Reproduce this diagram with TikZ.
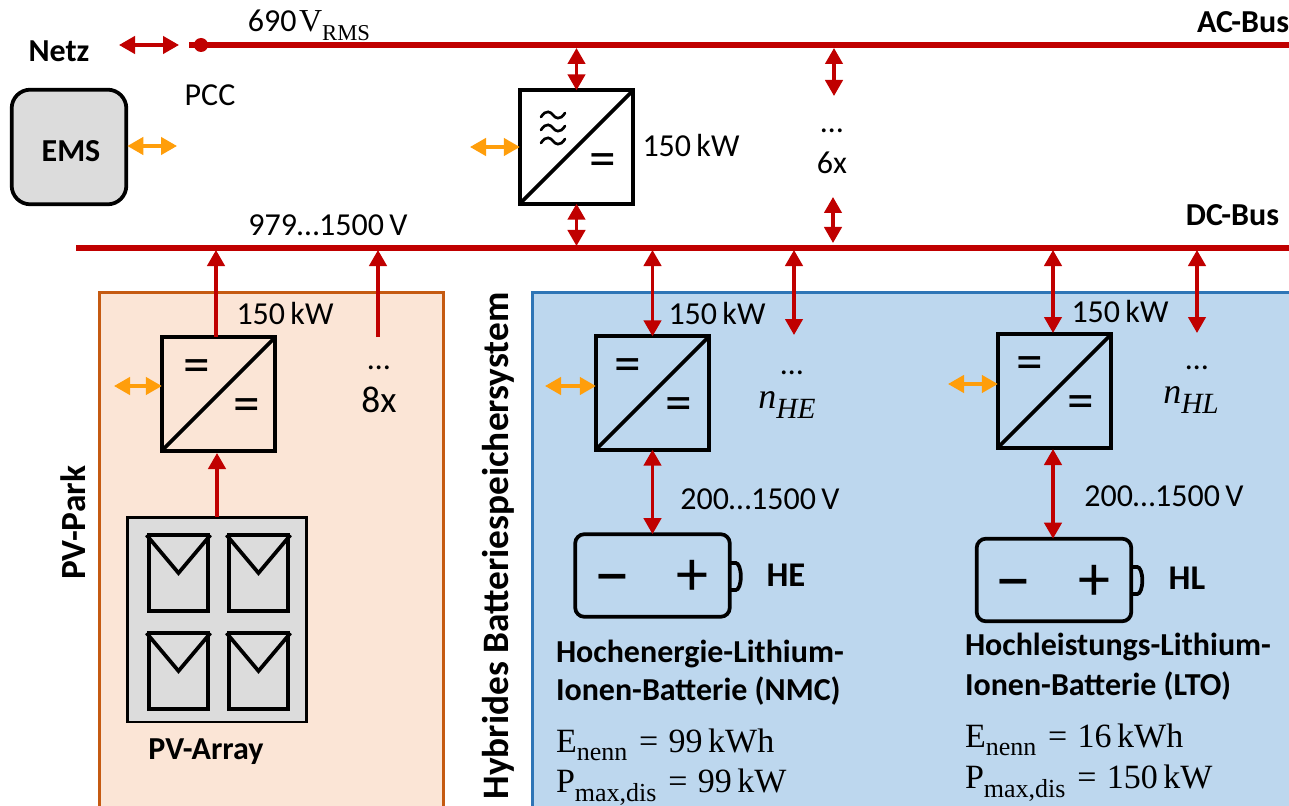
\documentclass[tikz,border=0pt]{standalone}
\usepackage{fontspec}
\setmainfont{Carlito}
\newfontfamily\serifm{Liberation Serif}
\usetikzlibrary{arrows.meta}
\definecolor{busred}{HTML}{C00000}
\definecolor{sigorange}{HTML}{FF9E0B}
\definecolor{pvfill}{HTML}{FBE5D6}
\definecolor{pvline}{HTML}{C55A11}
\definecolor{blfill}{HTML}{BDD7EE}
\definecolor{blline}{HTML}{2E75B6}
\definecolor{grayfill}{HTML}{DCDCDC}
\newcommand{\szn}{\fontsize{24}{28}\selectfont}
\newcommand{\szb}{\fontsize{24}{28}\selectfont\bfseries}
\newcommand{\szm}{\fontsize{25.5}{28}\selectfont}
\newcommand{\szs}{\fontsize{19.5}{20}\selectfont}
\newcommand{\subs}[1]{\raisebox{-0.25em}{\szs #1}}
\newcommand{\eqsgn}{\hspace{0.35em}=\hspace{0.3em}}
\tikzset{
  x=0.75pt,y=-0.75pt,
  lbl/.style={inner sep=0pt,outer sep=0pt,font=\szn},
  blbl/.style={inner sep=0pt,outer sep=0pt,font=\szb},
  hlbl/.style={inner sep=0pt,outer sep=0pt,font=\fontsize{26}{28}\selectfont\bfseries},
  mlbl/.style={inner sep=0pt,outer sep=0pt,anchor=west,font=\szm\serifm},
  conv/.style={draw=black,line width=2.9pt,minimum size=85pt,inner sep=0pt,outer sep=0pt},
  busline/.style={draw=busred,line width=4.1pt},
  rarrow/.style={draw=busred,line width=2.5pt,{Triangle[width=13pt,length=12pt]}-{Triangle[width=13pt,length=12pt]}},
  uparrow/.style={draw=busred,line width=2.5pt,-{Triangle[width=13pt,length=12pt]}},
  oarrow/.style={draw=sigorange,line width=2.5pt,{Triangle[width=13pt,length=12pt]}-{Triangle[width=13pt,length=12pt]}},
  panel/.style={draw=black,line width=2.8pt,minimum width=44pt,minimum height=57pt,inner sep=0pt,outer sep=0pt},
  batt/.style={draw=black,line width=2.8pt,fill=blfill,rounded corners=7pt,minimum width=116pt,minimum height=62pt,inner sep=0pt,outer sep=0pt},
  eqs/.style={inner sep=0pt,outer sep=0pt,font=\fontsize{40}{40}\selectfont},
  pmm/.style={inner sep=0pt,outer sep=0pt,font=\fontsize{54}{54}\selectfont},
  pmp/.style={inner sep=0pt,outer sep=0pt,font=\fontsize{48}{48}\selectfont},
}
\newcommand{\dia}[1]{\draw[line width=2.9pt,line cap=round] (#1.south west) -- (#1.north east);}
\newcommand{\vmark}[1]{\draw[line width=2.8pt,line join=miter] ([xshift=-2pt]#1.north west) -- ([yshift=-28.5pt]#1.north) -- ([xshift=2pt]#1.north east);}
\begin{document}
\begin{tikzpicture}
\clip (0,0) rectangle (1289,806);
\fill[white] (0,0) rectangle (1289,806);

% background areas
\node[draw=pvline,fill=pvfill,line width=2.2pt,inner sep=0pt,outer sep=0pt,minimum width=258pt,minimum height=400pt,anchor=north west] (pvarea) at (99.5,292.5) {};
\node[draw=blline,fill=blfill,line width=2.2pt,inner sep=0pt,outer sep=0pt,minimum width=600pt,minimum height=400pt,anchor=north west] (blarea) at (532.5,292.5) {};

% buses
\coordinate (acstart) at (189,45);
\coordinate (acend) at (1295,45);
\coordinate (dcstart) at (76,248);
\coordinate (dcend) at (1295,248);
\draw[busline] (acstart) -- (acend);
\draw[busline] (dcstart) -- (dcend);
\node[circle,fill=busred,minimum size=10.5pt,inner sep=0pt,outer sep=0pt] (pcc) at (201,45) {};
\coordinate (gridl) at (119,45);
\coordinate (gridr) at (179,45);
\draw[rarrow] (gridl) -- (gridr);

% labels top
\node[blbl] (netz) at (59,51) {Netz};
\node[lbl] (pcctxt) at (210,95) {PCC};
\node[lbl] (acv) at (309,25) {690\hspace{0.08em}{\serifm V\raisebox{-0.28em}{\fontsize{17}{20}\selectfont RMS}}};
\node[blbl,anchor=east] (acbus) at (1289,22) {AC-Bus};
\node[blbl,anchor=east] (dcbus) at (1279,215) {DC-Bus};
\node[lbl] (dcv) at (328,225) {979…1500\,V};

% EMS
\node[draw=black,fill=grayfill,line width=2.8pt,rounded corners=14pt,minimum size=86pt,inner sep=0pt,outer sep=0pt] (ems) at (69,147) {};
\node[blbl] (emstxt) at (71,151) {EMS};
\coordinate (emso) at (177,146);
\draw[oarrow] (ems.east |- emso) ++(1,0) coordinate (emsi) -- (emso);

% AC/DC converter
\node[conv] (acdc) at (576.5,147) {};
\dia{acdc}
\foreach \yy in {115,128,141}{
  \draw[line width=2pt,line cap=round] (541,\yy+2) .. controls (546,\yy-6) and (551,\yy-3) .. (553,\yy) .. controls (555,\yy+3) and (560,\yy+6) .. (565,\yy-2);
}
\node[eqs] (acd) at (603,165) {=};
\node[lbl] (acp) at (691,146) {150\,kW};
\coordinate (aco) at (470,147);
\draw[oarrow] (aco) -- (acdc.west);
\draw[rarrow] (acdc.north) -- (acdc.north |- 0,48);
\draw[rarrow] (acdc.south) -- (acdc.south |- 0,246);

% 6x
\coordinate (sixa) at (834,48);
\coordinate (sixb) at (834,96);
\coordinate (sixc) at (833,197);
\coordinate (sixd) at (833,243);
\draw[rarrow] (sixa) -- (sixb);
\draw[rarrow] (sixc) -- (sixd);
\node[lbl] (sixdots) at (832,131) {…};
\node[lbl] (sixtxt) at (832,163) {6x};

% PV
\node[inner sep=0pt,outer sep=0pt,font=\fontsize{26.5}{30}\selectfont\bfseries,rotate=90] (pvpark) at (73,523) {PV-Park};
\node[conv] (pvc) at (218.5,394) {};
\dia{pvc}
\node[eqs] (pveq1) at (197,371) {=};
\node[eqs] (pveq2) at (247,410) {=};
\node[lbl] (pvp) at (285,313) {150\,kW};
\coordinate (pvo) at (114,386);
\draw[oarrow] (pvo) -- (pvo -| pvc.west);
\coordinate (pvin) at (216,337);
\draw[uparrow] (pvin) -- (pvin |- 0,250);
\coordinate (pvmore) at (378,337);
\draw[uparrow] (pvmore) -- (pvmore |- 0,250);
\node[lbl] (pvdots) at (379,368) {…};
\node[inner sep=0pt,outer sep=0pt,font=\fontsize{28}{30}\selectfont] (pvtxt) at (379,400) {8x};
\node[draw=black,fill=grayfill,line width=2pt,inner sep=0pt,outer sep=0pt,minimum width=134.5pt,minimum height=153.5pt] (arr) at (217,619.5) {};
\draw[uparrow] (arr.north) -- (arr.north |- 0,453);
\node[panel] (p1) at (178.5,573) {}; \vmark{p1}
\node[panel] (p2) at (258.5,573) {}; \vmark{p2}
\node[panel] (p3) at (178.5,671) {}; \vmark{p3}
\node[panel] (p4) at (258.5,671) {}; \vmark{p4}
\node[blbl] (arrtxt) at (206,752) {PV-Array};

% Hybrid
\node[inner sep=0pt,outer sep=0pt,font=\fontsize{28}{30}\selectfont\bfseries,rotate=90] (hyb) at (498,546) {Hybrides Batteriespeichersystem};

% HE
\node[conv] (hec) at (652.5,393) {};
\dia{hec}
\node[eqs] (heeq1) at (628,370) {=};
\node[eqs] (heeq2) at (679,409) {=};
\node[lbl] (hep) at (717,313) {150\,kW};
\coordinate (heo) at (545,386);
\draw[oarrow] (heo) -- (heo -| hec.west);
\draw[rarrow] (hec.north) -- (hec.north |- 0,250);
\coordinate (hem) at (794,335);
\draw[rarrow] (hem) -- (hem |- 0,250);
\node[lbl] (hedots) at (792,373) {…};
\node[inner sep=0pt,outer sep=0pt,font=\fontsize{27}{30}\selectfont\serifm\itshape] (hen) at (787,405) {n\raisebox{-0.28em}{\fontsize{22}{24}\selectfont HE}};
\node[batt] (heb) at (652.5,575.5) {};
\draw[rarrow] (hec.south) -- (heb.north);
\draw[line width=2.8pt] (heb.east |- 0,563) -- ++(6,0) arc[start angle=-90,end angle=90,x radius=5,y radius=13.5] -- (heb.east |- 0,590);
\node[pmm] (hem1) at (612,587) {−};
\node[pmp] (hep1) at (692,578) {+};
\node[hlbl] (hetxt) at (786,575) {HE};
\node[lbl] (hev) at (760,499) {200…1500\,V};
\node[blbl,anchor=west] (he1) at (556,654) {Hochenergie-Lithium-};
\node[blbl,anchor=west] (he2) at (556,691) {Ionen-Batterie (NMC)};
\node[mlbl] (he3) at (556,745) {E\subs{nenn}\eqsgn 99\,kWh};
\node[mlbl] (he4) at (556,787) {P\subs{max,dis}\eqsgn 99\,kW};

% HL
\node[conv] (hlc) at (1054.5,391) {};
\dia{hlc}
\node[eqs] (hleq1) at (1030,368) {=};
\node[eqs] (hleq2) at (1081,407) {=};
\node[lbl] (hlp) at (1120,311) {150\,kW};
\coordinate (hlo) at (948,384);
\draw[oarrow] (hlo) -- (hlo -| hlc.west);
\coordinate (hlup) at (1053,333);
\draw[rarrow] (hlup) -- (hlup |- 0,250);
\coordinate (hlm) at (1197,333);
\draw[rarrow] (hlm) -- (hlm |- 0,250);
\node[lbl] (hldots) at (1197,368) {…};
\node[inner sep=0pt,outer sep=0pt,font=\fontsize{27}{30}\selectfont\serifm\itshape] (hln) at (1191,400) {n\raisebox{-0.28em}{\fontsize{22}{24}\selectfont HL}};
\node[batt] (hlb) at (1054,580) {};
\coordinate (hldn) at (1053,449);
\draw[rarrow] (hldn) -- (hldn |- hlb.north);
\draw[line width=2.8pt] (hlb.east |- 0,567) -- ++(6,0) arc[start angle=-90,end angle=90,x radius=5,y radius=13.5] -- (hlb.east |- 0,594);
\node[pmm] (hlm1) at (1013,592) {−};
\node[pmp] (hlp1) at (1094,583) {+};
\node[hlbl] (hltxt) at (1187,578) {HL};
\node[lbl] (hlv) at (1164,496) {200…1500\,V};
\node[blbl,anchor=west] (hl1) at (965,647) {Hochleistungs-Lithium-};
\node[blbl,anchor=west] (hl2) at (965,686) {Ionen-Batterie (LTO)};
\node[mlbl] (hl3) at (965,740) {E\subs{nenn}\eqsgn 16\,kWh};
\node[mlbl] (hl4) at (965,783) {P\subs{max,dis}\eqsgn 150\,kW};
\end{tikzpicture}
\end{document}
